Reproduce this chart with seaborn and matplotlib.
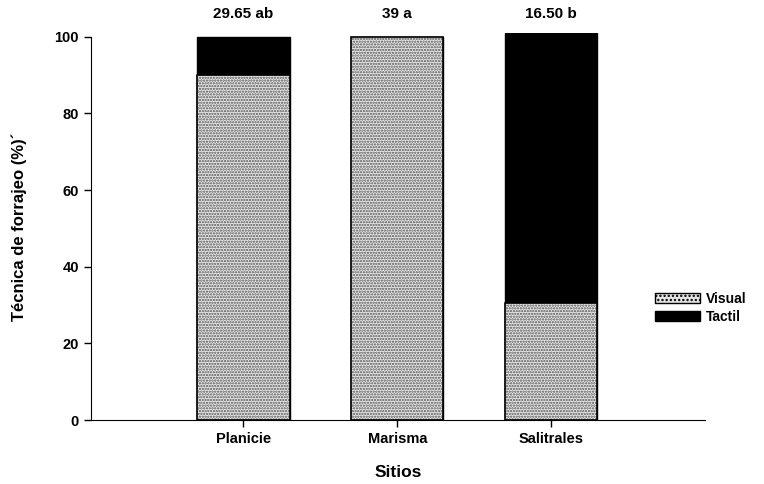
import matplotlib
matplotlib.use("Agg")
import matplotlib.pyplot as plt
import seaborn as sns
import pandas as pd
from matplotlib.patches import Patch

sites = ["Planicie", "Marisma", "Salitrales"]
visual = [90.0, 100.0, 30.5]
tactil = [10.0, 0.0, 70.5]
top_labels = ["29.65 ab", "39 a", "16.50 b"]
yticks = [0, 20, 40, 60, 80, 100]

sns.set_style("ticks", {"text.color": "black", "axes.labelcolor": "black",
                        "xtick.color": "black", "ytick.color": "black",
                        "axes.edgecolor": "black"})
plt.rcParams["font.family"] = ["Liberation Sans", "DejaVu Sans"]
plt.rcParams["font.weight"] = "bold"
plt.rcParams["hatch.color"] = "#555555"
plt.rcParams["hatch.linewidth"] = 1.1

df = pd.DataFrame({"Sitio": sites, "Visual": visual, "Tactil": tactil})
df["Total"] = df["Visual"] + df["Tactil"]

fig = plt.figure(figsize=(7.64, 4.84), dpi=100)
ax = fig.add_axes([0.119, 0.132, 0.804, 0.800])

sns.barplot(data=df, x="Sitio", y="Total", color="black", width=0.6,
            edgecolor="black", linewidth=1.0, saturation=1, ax=ax)
n_black = len(ax.patches)
sns.barplot(data=df, x="Sitio", y="Visual", color="#e6e6e6", width=0.6,
            edgecolor="#555555", linewidth=0, saturation=1, hatch="......", ax=ax)
# black outline around visual part
for p in ax.patches[n_black:]:
    x, w, h = p.get_x(), p.get_width(), p.get_height()
    ax.add_patch(plt.Rectangle((x, 0), w, h, fill=False, edgecolor="black", linewidth=1.2, zorder=3))

for i, lab in enumerate(top_labels):
    ax.text(i, 106, lab, ha="center", va="center", fontsize=11, fontweight="bold",
            color="black", clip_on=False)

ax.set_xlim(-0.99, 3.0)
ax.set_ylim(0, 101)
ax.set_yticks(yticks)
ax.spines["top"].set_visible(False)
ax.spines["right"].set_visible(False)
ax.spines["left"].set_bounds(0, 100)
ax.tick_params(axis="both", labelsize=10.5, length=5, width=1, direction="out",
               colors="black")
for t in ax.get_xticklabels() + ax.get_yticklabels():
    t.set_fontweight("bold")
ax.set_xlabel("Sitios", fontsize=12.5, fontweight="bold", labelpad=14, color="black")
ax.set_ylabel("Técnica de forrajeo (%)´", fontsize=12, fontweight="bold", labelpad=20,
              color="black")

handles = [Patch(facecolor="#e6e6e6", edgecolor="black", hatch="....", label="Visual"),
           Patch(facecolor="black", edgecolor="black", label="Tactil")]
leg = ax.legend(handles=handles, loc="center left", bbox_to_anchor=(0.91, 0.29),
                frameon=False, fontsize=10, handlelength=3.2, handleheight=0.8,
                labelspacing=0.3, handletextpad=0.4, borderaxespad=0)
for t in leg.get_texts():
    t.set_fontweight("bold")
    t.set_color("black")

fig.savefig("out.png", dpi=100)
